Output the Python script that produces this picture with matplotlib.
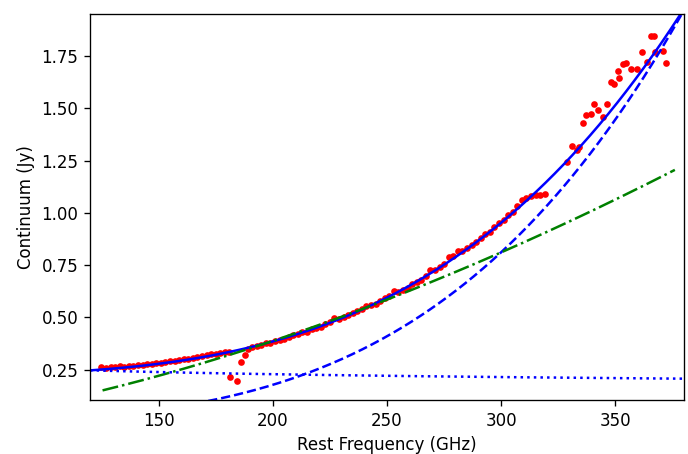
import numpy as np
import matplotlib
matplotlib.use("Agg")
import matplotlib.pyplot as plt

# Observed continuum (GHz, Jy)
freq = [125, 127, 129, 131, 133, 135, 137, 139, 141, 143, 145, 147, 149, 151, 153,
        155, 157, 159, 161, 163, 165, 167, 169, 171, 173, 175, 177, 179, 181,
        181.3, 184.5, 186.1, 187.8,
        189, 191, 193, 195, 197, 199, 201, 203, 205, 207, 209, 211, 213, 215, 217,
        219, 221, 223, 225, 227, 229, 231, 233, 235, 237, 239, 241, 243, 245, 247,
        249, 251, 253, 255, 257, 259, 261, 263, 265, 267, 269, 271, 273, 275, 277,
        279, 281, 283, 285, 287, 289, 291, 293, 295, 297, 299, 301, 303, 305, 307,
        309, 311, 313, 315, 317, 319,
        329.0, 330.8, 333.0, 334.1, 335.6, 337.3, 339.1, 340.7, 342.5, 344.6,
        346.4, 348.0, 349.3, 351.2, 351.6, 353.1, 354.8, 357.0, 359.5, 361.7,
        363.6, 365.4, 366.8, 367.3, 370.6, 372.1]
flux = [0.262, 0.260, 0.264, 0.263, 0.266, 0.265, 0.269, 0.270, 0.272, 0.274, 0.276,
        0.279, 0.281, 0.284, 0.286, 0.290, 0.292, 0.296, 0.299, 0.303, 0.306, 0.310,
        0.314, 0.318, 0.323, 0.326, 0.330, 0.333, 0.336,
        0.215, 0.194, 0.285, 0.322,
        0.350, 0.357, 0.365, 0.368, 0.378, 0.380, 0.388, 0.391, 0.398, 0.405, 0.415,
        0.421, 0.430, 0.432, 0.443, 0.451, 0.455, 0.468, 0.476, 0.497, 0.494, 0.503,
        0.511, 0.520, 0.531, 0.541, 0.556, 0.559, 0.566, 0.580, 0.592, 0.601, 0.625,
        0.622, 0.632, 0.641, 0.660, 0.668, 0.681, 0.696, 0.729, 0.725, 0.740, 0.757,
        0.789, 0.793, 0.816, 0.820, 0.831, 0.846, 0.862, 0.878, 0.897, 0.910, 0.933,
        0.950, 0.968, 0.990, 1.005, 1.032, 1.060, 1.072, 1.080, 1.085, 1.088, 1.093,
        1.242, 1.319, 1.303, 1.316, 1.431, 1.471, 1.475, 1.523, 1.495, 1.460,
        1.523, 1.625, 1.619, 1.678, 1.646, 1.713, 1.718, 1.689, 1.689, 1.771,
        1.723, 1.849, 1.849, 1.771, 1.774, 1.718]

# Model component parameters
total_floor, total_amp, total_ref, total_idx = 0.222, 0.778, 305.0, 3.7
ff_amp, ff_ref, ff_idx = 0.247, 120.0, -0.153
dust_amp, dust_ref, dust_idx = 0.41, 250.0, 3.75
mid_off, mid_amp, mid_ref, mid_idx = -0.05, 0.201, 125.5, 1.67

nu = np.linspace(120, 380, 400)
nu_mid = np.linspace(125.5, 376, 400)
total = total_floor + total_amp * (nu / total_ref) ** total_idx
ff = ff_amp * (nu / ff_ref) ** ff_idx
dust = dust_amp * (nu / dust_ref) ** dust_idx
mid = mid_off + mid_amp * (nu_mid / mid_ref) ** mid_idx

fig = plt.figure(figsize=(688 / 120, 454 / 120), dpi=120)
ax = fig.add_axes([90 / 688, 54 / 454, 594 / 688, 386 / 454])

ax.plot(freq, flux, 'r.')
ax.plot(nu, total, 'b-')
ax.plot(nu, dust, 'b--')
ax.plot(nu_mid, mid, 'g-.')
ax.plot(nu, ff, 'b:')

ax.set_xlim(120, 380)
ax.set_ylim(0.105, 1.952)
ax.set_xticks([150, 200, 250, 300, 350])
ax.set_yticks([0.25, 0.5, 0.75, 1.0, 1.25, 1.5, 1.75])
ax.set_yticklabels(["0.25", "0.50", "0.75", "1.00", "1.25", "1.50", "1.75"])
ax.set_xlabel("Rest Frequency (GHz)")
ax.set_ylabel("Continuum (Jy)")

fig.savefig("out.png", dpi=120)
